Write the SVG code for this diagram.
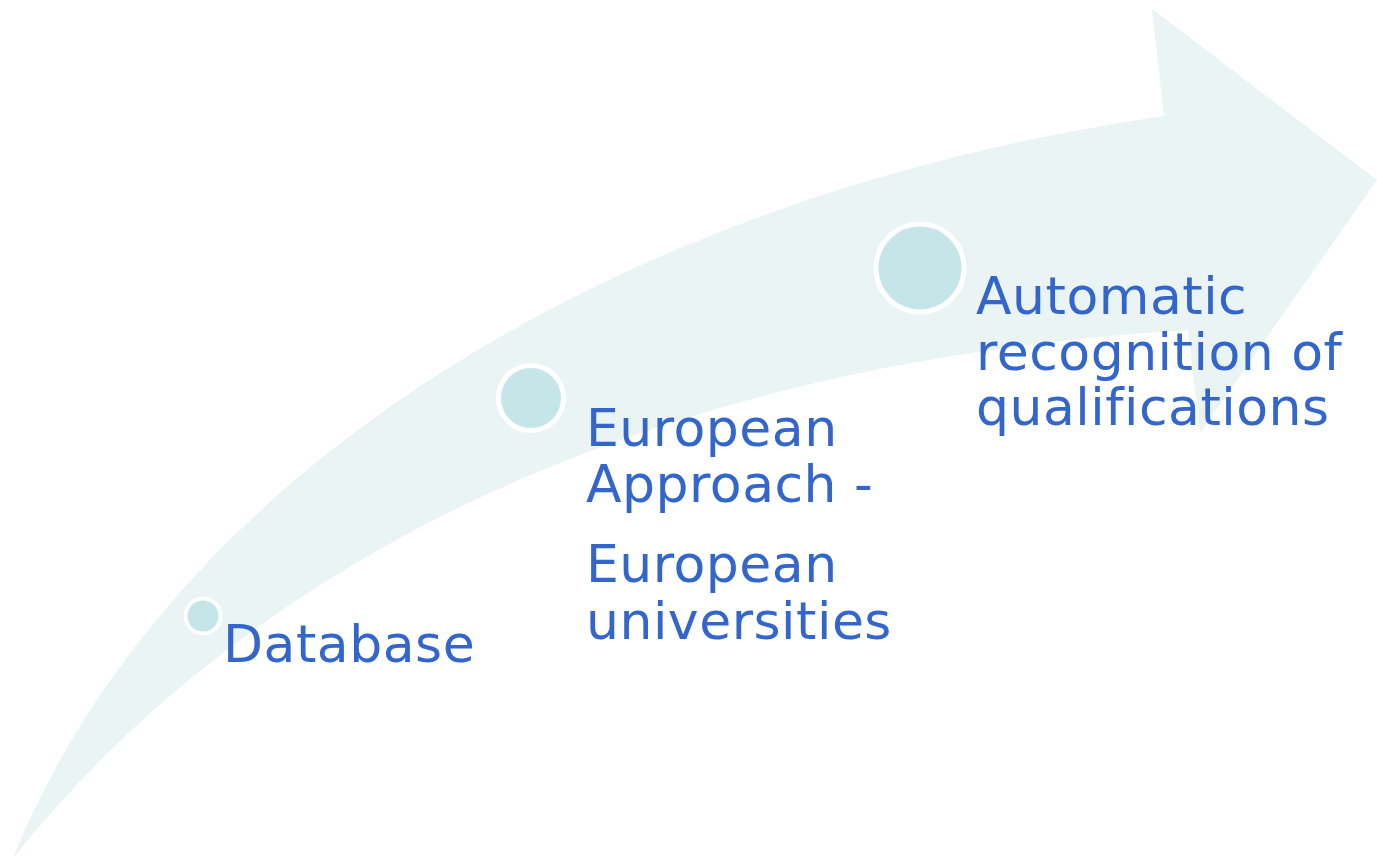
<svg xmlns="http://www.w3.org/2000/svg" width="1377" height="859" viewBox="0 0 1377 859">
<style>
.band{fill:#eaf4f4;}
.dot{fill:#c5e5e8;stroke:#ffffff;}
.lbl{font-family:"DejaVu Sans","Verdana",sans-serif;font-size:52px;letter-spacing:0.5px;font-variant-ligatures:none;fill:#3366cc;}
</style>
<rect x="0" y="0" width="1377" height="859" fill="#ffffff"/>
<g id="arrow">
<path class="band" d="M13,858 C170,470 620,195 1164,116 L1152,9 L1377,180 L1200,433 L1188,330 C620,365 240,575 13,858 Z"/>
</g>
<g id="node-database">
<circle class="dot" cx="203" cy="616" r="17.5" stroke-width="4"/>
<text class="lbl" x="223" y="662">Database</text>
</g>
<g id="node-european">
<circle class="dot" cx="531" cy="398" r="32.5" stroke-width="5"/>
<text class="lbl" x="586" y="446">European</text>
<text class="lbl" x="586" y="502">Approach -</text>
<text class="lbl" x="586" y="582">European</text>
<text class="lbl" x="586" y="639">universities</text>
</g>
<g id="node-automatic">
<circle class="dot" cx="920" cy="268" r="44" stroke-width="5"/>
<text class="lbl" x="976" y="314">Automatic</text>
<text class="lbl" x="976" y="370">recognition of</text>
<text class="lbl" x="976" y="425">qualifications</text>
</g>
<g id="connectors"></g>
</svg>
